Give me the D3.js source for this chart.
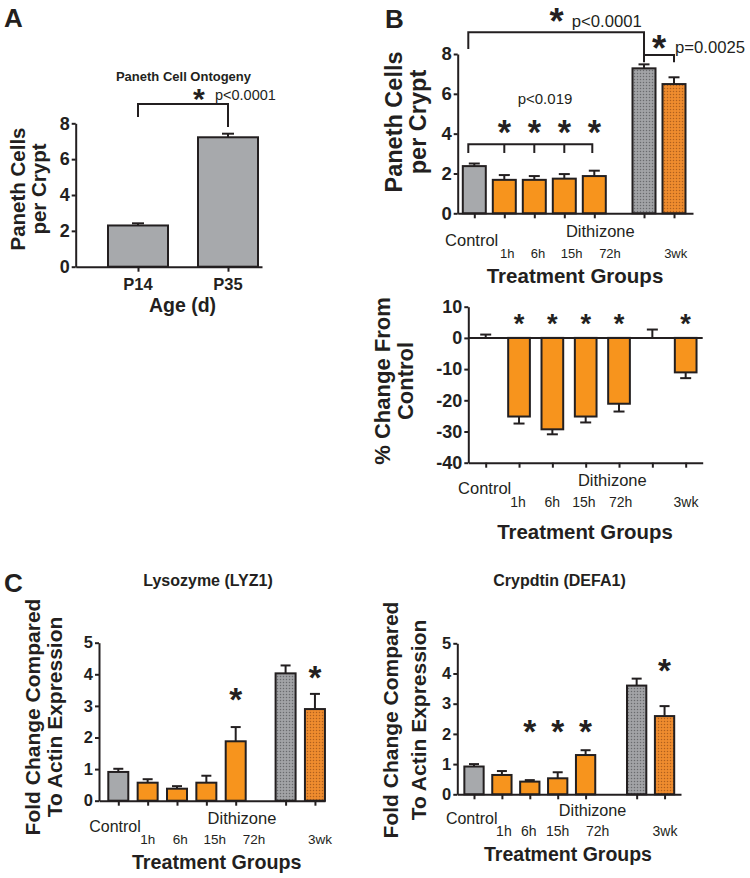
<!DOCTYPE html>
<html><head><meta charset="utf-8">
<script src="https://cdn.jsdelivr.net/npm/d3@7"></script>
<style>
body{margin:0;background:#fff;}
svg{display:block;font-family:"Liberation Sans",Arial,Helvetica,sans-serif;}
</style></head><body>
<svg id="fig" width="750" height="878"></svg>
<script>
// ---------------- DATA ----------------
const ageGroups = ["P14", "P35"];
const ontogenyMean = [2.3, 7.22];
const ontogenyErr = [0.12, 0.2];

const treatmentGroups = ["Control", "1h", "6h", "15h", "72h", "3wk Control", "3wk"];
const treatmentTickLabels = ["Control", "1h", "6h", "15h", "72h", "", "3wk"];
const groupFill = ["gray", "orange", "orange", "orange", "orange", "grayDots", "orangeDots"];

const panethMean = [2.37, 1.68, 1.68, 1.74, 1.87, 7.28, 6.49];
const panethErr = [0.13, 0.24, 0.19, 0.23, 0.27, 0.2, 0.34];
const panethStarLevel = [null, 4.44, 4.44, 4.44, 4.44, null, null];

const pctChangeMean = [0, -25.2, -29.3, -25.2, -21.1, 0, -11.05];
const pctChangeErr = [1.07, 2.25, 1.6, 1.9, 2.5, 2.68, 1.85];
const pctChangeStarLevel = [null, 6.5, 6.5, 6.5, 6.5, null, 6.5];

const lyzMean = [0.91, 0.57, 0.38, 0.57, 1.88, 4.03, 2.9];
const lyzErr = [0.1, 0.11, 0.08, 0.22, 0.45, 0.25, 0.48];
const lyzStarLevel = [null, null, null, null, 3.45, null, 4.14];

const defaMean = [0.92, 0.64, 0.42, 0.53, 1.3, 3.6, 2.59];
const defaErr = [0.08, 0.13, 0.05, 0.2, 0.16, 0.23, 0.33];
const defaStarLevel = [null, null, 2.33, 2.33, 2.33, null, 4.36];

const ticksPaneth = [0, 2, 4, 6, 8];
const ticksPct = [10, 0, -10, -20, -30, -40];
const ticksFold = [0, 1, 2, 3, 4, 5];

// ---------------- STYLE ----------------
const INK = "#231f20";
const FILLS = {gray: "#a7a9ac", orange: "#f7941d", grayDots: "url(#grayDots)", orangeDots: "url(#orangeDots)"};

const svg = d3.select("#fig");
const defs = svg.append("defs");
function dots(id, base, dot) {
  const p = defs.append("pattern").attr("id", id).attr("width", 3).attr("height", 3)
    .attr("patternUnits", "userSpaceOnUse");
  p.append("rect").attr("width", 3).attr("height", 3).attr("fill", base);
  p.append("circle").attr("cx", 1.5).attr("cy", 1.5).attr("r", 0.75).attr("fill", dot);
}
dots("grayDots", "#a2a3a6", "#6a6b6e");
dots("orangeDots", "#ef8c2e", "#b0601c");

function txt(g, x, y, s, size, opts = {}) {
  return g.append("text").attr("x", x).attr("y", y).text(s)
    .attr("font-size", size).attr("fill", INK)
    .attr("font-weight", opts.bold ? "bold" : "normal")
    .attr("text-anchor", opts.anchor || "middle");
}
function vtxt(g, bx, cy, s, size) {
  return g.append("text").attr("transform", `translate(${bx},${cy}) rotate(-90)`)
    .text(s).attr("font-size", size).attr("font-weight", "bold").attr("fill", INK)
    .attr("text-anchor", "middle");
}
function star(g, x, yc, ink) {
  const fs = ink / 0.33;
  g.append("text").attr("x", x).attr("y", yc + 0.57 * fs).attr("text-anchor", "middle")
    .attr("font-weight", "bold").attr("font-size", fs).attr("fill", INK).text("*");
}
function line(g, pts) {
  g.append("path").attr("d", d3.line()(pts)).attr("fill", "none")
    .attr("stroke", INK).attr("stroke-width", 2).attr("stroke-linejoin", "miter");
}

// ---------------- GENERIC PANEL ----------------
function panel(c) {
  const g = svg.append("g");
  const y = d3.scaleLinear().domain(c.yDomain).range(c.yRange);
  const slot = i => i + (i >= c.gapAt ? c.gapExtra : 0);
  const x = d3.scaleLinear()
    .domain([(c.axisX - c.first) / c.step, (c.xEnd - c.first) / c.step])
    .range([c.axisX, c.xEnd]);
  const idx = c.means.map((_, i) => i);

  // bars
  g.selectAll("rect.bar").data(idx).join("rect").attr("class", "bar")
    .attr("x", i => x(slot(i)) - c.barW / 2)
    .attr("y", i => Math.min(y(c.means[i]), y(0)))
    .attr("width", c.barW)
    .attr("height", i => Math.abs(y(c.means[i]) - y(0)))
    .attr("fill", i => FILLS[c.fills[i]])
    .attr("stroke", INK).attr("stroke-width", 2);

  // error bars
  idx.forEach(i => {
    const m = c.means[i], s = m < 0 ? -1 : 1;
    const e = m + s * c.errs[i];
    const cx = x(slot(i));
    line(g, [[cx, y(m)], [cx, y(e)]]);
    line(g, [[cx - c.capW / 2, y(e)], [cx + c.capW / 2, y(e)]]);
  });

  // x axis
  const xa = g.append("g").attr("transform", `translate(0,${y(c.xAxisAt)})`)
    .call(d3.axisBottom(x).tickValues(idx.map(slot)).tickSize(5).tickSizeOuter(0).tickFormat(""));
  xa.select(".domain").attr("stroke", INK).attr("stroke-width", 2);
  xa.selectAll(".tick line").attr("stroke", INK).attr("stroke-width", 2);
  if (c.xAxisAt !== 0) {
    line(g, [[c.axisX, y(0)], [c.xEnd, y(0)]]);
  }

  // y axis
  const ya = g.append("g").attr("transform", `translate(${c.axisX},0)`)
    .call(d3.axisLeft(y).tickValues(c.ticks).tickSize(4).tickSizeOuter(0).tickPadding(2)
      .tickFormat(d => String(d)));
  ya.select(".domain").attr("stroke", INK).attr("stroke-width", 2);
  ya.selectAll(".tick line").attr("stroke", INK).attr("stroke-width", 2);
  ya.selectAll(".tick text").attr("font-size", c.tickSize).attr("font-weight", "bold")
    .attr("fill", INK).attr("font-family", "Liberation Sans, Arial, sans-serif");

  // stars
  if (c.starLevel) idx.forEach(i => {
    if (c.starLevel[i] != null) star(g, x(slot(i)), y(c.starLevel[i]), c.starInk);
  });

  return {g, x: i => x(slot(i)), y};
}

// ---------------- PANEL A ----------------
const A = panel({
  yDomain: [0, 8], yRange: [266.7, 123.3], axisX: 75.7, xEnd: 262,
  first: 138, step: 90, gapAt: Infinity, gapExtra: 0, barW: 60, capW: 12,
  means: ontogenyMean, errs: ontogenyErr, fills: ["gray", "gray"],
  xAxisAt: 0, ticks: ticksPaneth, tickSize: 18
});
ageGroups.forEach((s, i) => txt(A.g, A.x(i), 290, s, 16.5, {bold: true}));
txt(A.g, 182.5, 312, "Age (d)", 19.5, {bold: true});
vtxt(A.g, 25, 189, "Paneth Cells", 20.5);
vtxt(A.g, 46, 189, "per Crypt", 20.5);
txt(A.g, 183.5, 80.5, "Paneth Cell Ontogeny", 13, {bold: true});
line(A.g, [[A.x(0), A.y(8.35)], [A.x(0), A.y(9.08)], [A.x(1), A.y(9.08)], [A.x(1), A.y(7.79)]]);
star(A.g, 199, 92, 10);
txt(A.g, 215, 100, "p<0.0001", 14.5, {anchor: "start"});
txt(A.g, 4, 27, "A", 26, {bold: true, anchor: "start"});

// ---------------- PANEL B (top) ----------------
const Bt = panel({
  yDomain: [0, 8], yRange: [213.3, 54], axisX: 457.7, xEnd: 693,
  first: 474.3, step: 30, gapAt: 5, gapExtra: 0.657, barW: 23, capW: 11,
  means: panethMean, errs: panethErr, fills: groupFill,
  xAxisAt: 0, ticks: ticksPaneth, tickSize: 18.5,
  starLevel: panethStarLevel, starInk: 11.3
});
const btDx = [-2.6, 3, 3.7, 7.4, 15.7, 0, 1.7];
treatmentTickLabels.forEach((s, i) => {
  if (!s) return;
  if (i === 0) txt(Bt.g, Bt.x(i) + btDx[i], 246, s, 16.5);
  else txt(Bt.g, Bt.x(i) + btDx[i], 257.5, s, 13);
});
txt(Bt.g, Bt.x(4) + 6, 237, "Dithizone", 16.5);
txt(Bt.g, 575, 283, "Treatment Groups", 20.5, {bold: true});
vtxt(Bt.g, 402, 122, "Paneth Cells", 23.5);
vtxt(Bt.g, 426, 122, "per Crypt", 23.5);
// lower bracket Control vs Dithizone groups
line(Bt.g, [[Bt.x(0) - 6, Bt.y(3.03)], [Bt.x(0) - 6, Bt.y(3.47)], [Bt.x(4) - 2, Bt.y(3.47)], [Bt.x(4) - 2, Bt.y(3.03)]]);
[1, 2, 3].forEach(i => line(Bt.g, [[Bt.x(i), Bt.y(3.47)], [Bt.x(i), Bt.y(3.03)]]));
txt(Bt.g, 545, 103.5, "p<0.019", 15);
// big bracket Control vs 3wk control
line(Bt.g, [[Bt.x(0) - 6, Bt.y(8.25)], [Bt.x(0) - 6, Bt.y(9.09)], [Bt.x(5), Bt.y(9.09)], [Bt.x(5), Bt.y(7.58)]]);
line(Bt.g, [[Bt.x(5), Bt.y(7.95)], [Bt.x(6), Bt.y(7.95)], [Bt.x(6), Bt.y(7.58)]]);
star(Bt.g, 556.7, 13, 12);
txt(Bt.g, 571.7, 26.5, "p<0.0001", 16.7, {anchor: "start"});
star(Bt.g, 659, 40, 12);
txt(Bt.g, 675, 52.5, "p=0.0025", 16.7, {anchor: "start"});
txt(Bt.g, 385, 28, "B", 26, {bold: true, anchor: "start"});

// ---------------- PANEL B (bottom) ----------------
const Bb = panel({
  yDomain: [-40, 10], yRange: [462.7, 306.7], axisX: 468.3, xEnd: 702.7,
  first: 485.7, step: 33.33, gapAt: Infinity, gapExtra: 0, barW: 21.7, capW: 11,
  means: pctChangeMean, errs: pctChangeErr, fills: groupFill.map(f => f === "grayDots" ? "gray" : f === "orangeDots" ? "orange" : f),
  xAxisAt: -40, ticks: ticksPct, tickSize: 18,
  starLevel: pctChangeStarLevel, starInk: 9
});
const bbDx = [-1, -1, 0, -1.7, 1.7, 0, 0.3];
treatmentTickLabels.forEach((s, i) => {
  if (!s) return;
  if (i === 0) txt(Bb.g, Bb.x(i) + bbDx[i], 493.5, s, 16.5);
  else txt(Bb.g, Bb.x(i) + bbDx[i], 507, s, 14);
});
txt(Bb.g, Bb.x(4) - 6.7, 486, "Dithizone", 16.5);
txt(Bb.g, 585, 539, "Treatment Groups", 20.4, {bold: true});
vtxt(Bb.g, 390, 381, "% Change From", 22);
vtxt(Bb.g, 413, 381, "Control", 22);

// ---------------- PANEL C (left) ----------------
const Cl = panel({
  yDomain: [0, 5], yRange: [800.7, 642.7], axisX: 99, xEnd: 325,
  first: 118.3, step: 29.35, gapAt: 5, gapExtra: 0.70, barW: 20, capW: 10,
  means: lyzMean, errs: lyzErr, fills: groupFill,
  xAxisAt: 0, ticks: ticksFold, tickSize: 16.5,
  starLevel: lyzStarLevel, starInk: 11
});
const clDx = [-3.3, 0, 3.3, 8.3, 18.3, 0, 5];
treatmentTickLabels.forEach((s, i) => {
  if (!s) return;
  if (i === 0) txt(Cl.g, Cl.x(i) + clDx[i], 831.5, s, 16);
  else txt(Cl.g, Cl.x(i) + clDx[i], 843.5, s, 13.5);
});
txt(Cl.g, Cl.x(4) + 6.3, 824, "Dithizone", 16.5);
txt(Cl.g, 216.7, 869, "Treatment Groups", 19.7, {bold: true});
vtxt(Cl.g, 40, 717, "Fold Change Compared", 21);
vtxt(Cl.g, 62, 717, "To Actin Expression", 21);
txt(Cl.g, 208, 586, "Lysozyme (LYZ1)", 16, {bold: true});
txt(Cl.g, 4, 592, "C", 26, {bold: true, anchor: "start"});

// ---------------- PANEL C (right) ----------------
const Cr = panel({
  yDomain: [0, 5], yRange: [794.3, 643.3], axisX: 457.3, xEnd: 681,
  first: 474, step: 27.9, gapAt: 5, gapExtra: 0.83, barW: 19.3, capW: 10,
  means: defaMean, errs: defaErr, fills: groupFill,
  xAxisAt: 0, ticks: ticksFold, tickSize: 16.5,
  starLevel: defaStarLevel, starInk: 11
});
const crDx = [-2.3, 2, -1, 0, 12, 0, 0.4];
treatmentTickLabels.forEach((s, i) => {
  if (!s) return;
  if (i === 0) txt(Cr.g, Cr.x(i) + crDx[i], 823.5, s, 16);
  else txt(Cr.g, Cr.x(i) + crDx[i], 836, s, 14);
});
txt(Cr.g, Cr.x(4) + 7, 816, "Dithizone", 16.2);
txt(Cr.g, 568, 860.5, "Treatment Groups", 19.5, {bold: true});
vtxt(Cr.g, 398, 720, "Fold Change Compared", 21);
vtxt(Cr.g, 426, 720, "To Actin Expression", 21);
txt(Cr.g, 559.5, 586, "Crypdtin (DEFA1)", 16, {bold: true});
</script>
</body></html>
